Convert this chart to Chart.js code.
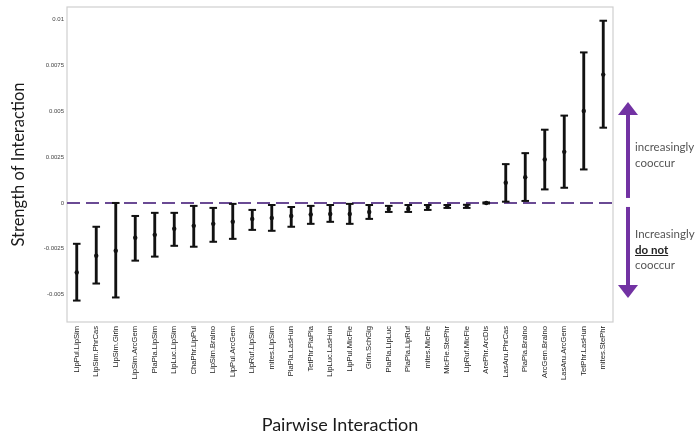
<!DOCTYPE html>
<html>
<head>
<meta charset="utf-8">
<script src="https://cdn.jsdelivr.net/npm/chart.js@4.4.1/dist/chart.umd.min.js"></script>
<style>
  html, body { margin: 0; padding: 0; background: #fff; }
  #wrap { position: relative; width: 699px; height: 437px; }
  .note { position: absolute; font-family: Lato, "Open Sans", sans-serif; font-size: 11.5px; color: #555; line-height: 15.5px; }
  .note b { color: #222; text-decoration: underline; }
</style>
</head>
<body>
<div id="wrap">
  <canvas id="chart" width="699" height="437"></canvas>
  <div class="note" style="left:635px; top:139px;">increasingly<br>cooccur</div>
  <div class="note" style="left:635px; top:226px;">Increasingly<br><b>do not</b><br>cooccur</div>
</div>
<script>
const categories = [
  'LipPul.LipSim', 'LipSim.PhrCas', 'LipSim.Girln', 'LipSim.ArcGem', 'PlaPla.LipSim',
  'LipLuc.LipSim', 'ChaPhr.LipPul', 'LipSim.Bralno', 'LipPul.ArcGem', 'LipRuf.LipSim',
  'mites.LipSim', 'PlaPla.LasHun', 'TetPhr.PlaPla', 'LipLuc.LasHun', 'LipPul.MicFle',
  'Girln.SchGig', 'PlaPla.LipLuc', 'PlaPla.LipRuf', 'mites.MicFle', 'MicFle.StePhr',
  'LipRuf.MicFle', 'ArePhr.ArcDis', 'LasAru.PhrCas', 'PlaPla.Bralno', 'ArcGem.Bralno',
  'LasAru.ArcGem', 'TetPhr.LasHun', 'mites.StePhr'
];
const means = [
  -0.00380, -0.00288, -0.00261, -0.00190, -0.00174, -0.00141, -0.00125, -0.00114, -0.00103, -0.00087,
  -0.00082, -0.00071, -0.00063, -0.00060, -0.00060, -0.00049, -0.00033, -0.00033, -0.00022, -0.00020,
  -0.00017, 0.00000, 0.00110, 0.00140, 0.00237, 0.00279, 0.00502, 0.00701
];
const lower = [
  -0.00533, -0.00440, -0.00516, -0.00315, -0.00293, -0.00234, -0.00239, -0.00212, -0.00196, -0.00147,
  -0.00152, -0.00130, -0.00114, -0.00103, -0.00114, -0.00087, -0.00049, -0.00049, -0.00038, -0.00027,
  -0.00027, -0.00003, 0.00007, 0.00011, 0.00074, 0.00083, 0.00183, 0.00411
];
const upper = [
  -0.00223, -0.00130, 0.00000, -0.00071, -0.00054, -0.00054, -0.00016, -0.00027, -0.00005, -0.00038,
  -0.00011, -0.00022, -0.00016, -0.00011, -0.00005, -0.00011, -0.00016, -0.00011, -0.00011, -0.00011,
  -0.00010, 0.00003, 0.00212, 0.00272, 0.00400, 0.00477, 0.00822, 0.00995
];
const yTicks = [-0.005, -0.0025, 0, 0.0025, 0.005, 0.0075, 0.01];

const purple = '#7232a3';

// plot frame + dashed zero line + the two arrows on the right
const decorations = {
  id: 'decorations',
  beforeDatasetsDraw(chart) {
    const {ctx, chartArea: a, scales} = chart;
    const y0 = scales.y.getPixelForValue(0);
    ctx.save();
    ctx.strokeStyle = '#cfcfcf';
    ctx.lineWidth = 1.2;
    ctx.strokeRect(a.left, a.top, a.right - a.left, a.bottom - a.top);
    ctx.strokeStyle = '#6a4a94';
    ctx.lineWidth = 2;
    ctx.setLineDash([13, 6]);
    ctx.beginPath();
    ctx.moveTo(a.left, y0);
    ctx.lineTo(a.right, y0);
    ctx.stroke();
    ctx.restore();
  },
  afterDraw(chart) {
    const {ctx, scales} = chart;
    const y0 = scales.y.getPixelForValue(0);
    const x = 628;
    ctx.save();
    ctx.fillStyle = purple;
    ctx.strokeStyle = purple;
    ctx.lineWidth = 4;
    // up arrow
    ctx.beginPath();
    ctx.moveTo(x, y0 - 5);
    ctx.lineTo(x, y0 - 90);
    ctx.stroke();
    ctx.beginPath();
    ctx.moveTo(x, y0 - 101);
    ctx.lineTo(x - 10, y0 - 88);
    ctx.lineTo(x + 10, y0 - 88);
    ctx.closePath();
    ctx.fill();
    // down arrow
    ctx.beginPath();
    ctx.moveTo(x, y0 + 4);
    ctx.lineTo(x, y0 + 84);
    ctx.stroke();
    ctx.beginPath();
    ctx.moveTo(x, y0 + 95);
    ctx.lineTo(x - 10, y0 + 82);
    ctx.lineTo(x + 10, y0 + 82);
    ctx.closePath();
    ctx.fill();
    ctx.restore();
  }
};

const ctx = document.getElementById('chart').getContext('2d');
// eslint-disable-next-line no-new
new Chart(ctx, {
  type: 'bar',
  data: {
    labels: categories,
    datasets: [
      {
        type: 'line',
        data: means,
        showLine: false,
        pointRadius: 2.2,
        pointBackgroundColor: '#111',
        pointBorderWidth: 0,
        order: 0
      },
      {
        type: 'line',
        data: lower,
        showLine: false,
        pointStyle: 'line',
        pointRadius: 3.8,
        pointBorderColor: '#111',
        pointBorderWidth: 2,
        order: 1
      },
      {
        type: 'line',
        data: upper,
        showLine: false,
        pointStyle: 'line',
        pointRadius: 3.8,
        pointBorderColor: '#111',
        pointBorderWidth: 2,
        order: 1
      },
      {
        type: 'bar',
        data: lower.map((l, i) => [l, upper[i]]),
        backgroundColor: '#111',
        barThickness: 2.2,
        borderSkipped: false,
        order: 2
      }
    ]
  },
  options: {
    responsive: false,
    animation: false,
    events: [],
    layout: {
      padding: { left: 9, top: 7, right: 86, bottom: 1 }
    },
    scales: {
      x: {
        offset: true,
        grid: { display: false, drawTicks: false },
        border: { display: false },
        ticks: {
          autoSkip: false,
          maxRotation: 90,
          minRotation: 90,
          padding: 4,
          color: '#222',
          font: { family: '"Liberation Sans", Arial, sans-serif', size: 7.6 }
        },
        title: {
          display: true,
          text: 'Pairwise Interaction',
          color: '#1a1a1a',
          padding: { top: 0, bottom: 0 },
          font: { family: 'Lato, "Open Sans", sans-serif', size: 18 }
        },
        afterFit(scale) { scale.height = 114; }
      },
      y: {
        min: -0.0065,
        max: 0.0107,
        grid: { display: false, drawTicks: false },
        border: { display: false },
        afterBuildTicks(scale) { scale.ticks = yTicks.map(v => ({ value: v })); },
        ticks: {
          padding: 3,
          color: '#444',
          font: { family: '"Liberation Sans", Arial, sans-serif', size: 6 },
          callback: v => String(v)
        },
        title: {
          display: true,
          text: 'Strength of Interaction',
          color: '#1a1a1a',
          padding: { top: 0, bottom: 0 },
          font: { family: 'Lato, "Open Sans", sans-serif', size: 16.5 }
        },
        afterFit(scale) { scale.width = 58; }
      }
    },
    plugins: {
      legend: { display: false },
      tooltip: { enabled: false }
    }
  },
  plugins: [decorations]
});
</script>
</body>
</html>
